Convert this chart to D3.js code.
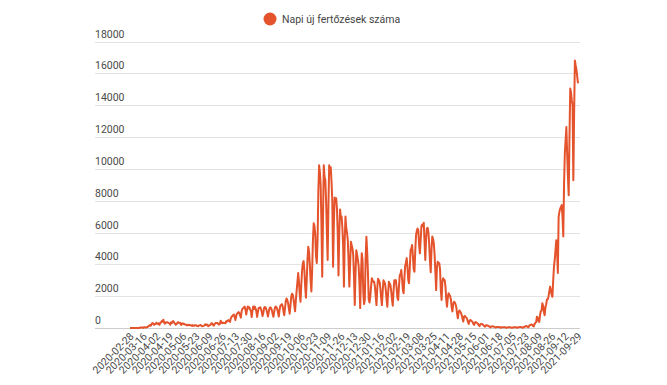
<!DOCTYPE html>
<html>
<head>
<meta charset="utf-8">
<script src="https://cdnjs.cloudflare.com/ajax/libs/d3/7.8.5/d3.min.js"></script>
<style>
  body { margin: 0; background: #fff; }
  text { font-family: Roboto, "Noto Sans", sans-serif; }
</style>
</head>
<body>
<div id="chart"></div>
<script>
// napi új esetek, 2020-02-28-tól (egy sor = egy hét, péntektől csütörtökig)
const cases2020 = [
  1, 0, 0, 0, 0, 1, 3,
  3, 2, 2, 2, 4, 13, 10,
  40, 24, 32, 5, 44, 45, 31,
  31, 66, 66, 143, 143, 186, 144,
  263, 308, 293, 193, 251, 247, 332,
  280, 252, 291, 193, 324, 350, 441,
  402, 523, 353, 270, 338, 360, 360,
  340, 306, 291, 200, 354, 313, 415,
  436, 334, 284, 207, 240, 317, 376,
  333, 297, 320, 190, 267, 300, 240,
  261, 213, 213, 169, 173, 210, 171,
  199, 181, 160, 127, 178, 134, 144,
  179, 175, 147, 119, 110, 165, 170,
  184, 150, 111, 115, 134, 164, 227,
  186, 220, 194, 106, 150, 180, 207,
  298, 299, 214, 149, 232, 288, 321,
  320, 320, 237, 214, 264, 460, 325,
  301, 341, 310, 310, 294, 422, 389,
  460, 500, 440, 380, 600, 700, 750,
  800, 850, 700, 500, 750, 900, 940,
  1000, 950, 800, 650, 1050, 1200, 1250,
  1300, 1340, 1150, 850, 1150, 1350, 1250,
  1295, 1147, 1060, 688, 1092, 1353, 1201,
  1345, 1215, 1060, 697, 1010, 1260, 1250,
  1300, 1200, 1000, 750, 950, 1260, 1320,
  1280, 1150, 950, 720, 1000, 1230, 1300,
  1250, 1120, 900, 700, 1000, 1280, 1350,
  1300, 1180, 950, 720, 1150, 1400, 1450,
  1500, 1350, 1050, 800, 1250, 1700, 1850,
  1750, 1550, 1200, 900, 1400, 1950, 2150,
  2100, 1800, 1400, 1050, 1750, 2350, 2900,
  3450, 2900, 2100, 1650, 2700, 3600, 4080,
  4200, 3600, 2600, 1900, 3000, 4300, 5100,
  4800, 4000, 3000, 2300, 3600, 5500, 6580,
  6400, 5900, 4500, 4080, 5500, 8600, 10220,
  9800, 9000, 6500, 3220, 6800, 10220, 9500,
  9300, 8000, 6000, 4270, 7700, 10220, 9700,
  10100, 9200, 8000, 3850, 6500, 8200, 8000,
  8150, 7500, 6000, 3300, 5900, 7450, 7000,
  7000, 6300, 5200, 2600, 5500, 7000, 6300,
  6000, 5500, 4200, 2600, 4000, 5420, 5200,
  5000, 4600, 3200, 1440, 3500, 4890, 4600,
  4300, 3900, 2800, 1250, 3300, 4700, 4300,
  2200, 1500, 1800, 4400, 5730, 4800, 3450
];

const cases2021 = [
  1800, 1600, 1960, 2600, 3130, 3000, 2900,
  2900, 2600, 2000, 1440, 2500, 3100, 3000,
  2900, 2500, 1900, 1440, 2300, 3000, 2900,
  2800, 2400, 1800, 1340, 2200, 2900, 2800,
  2700, 2300, 1800, 1400, 2300, 3000, 2900,
  3010, 2500, 1900, 1760, 2600, 3300, 3400,
  3640, 3100, 2400, 2180, 3100, 3900, 4100,
  4390, 3800, 3000, 2820, 3800, 4900, 5000,
  5210, 4500, 3700, 3530, 4800, 5800, 6100,
  6250, 6150, 5200, 4690, 5500, 6400, 6500,
  6400, 6610, 5400, 4270, 5600, 6250, 6300,
  6000, 5300, 4200, 3500, 4900, 5750, 5600,
  5310, 4600, 3500, 2380, 3800, 4160, 4100,
  4080, 3700, 2400, 1760, 2900, 3130, 3010,
  3010, 2600, 1800, 1340, 1900, 2190, 2100,
  2000, 1800, 1300, 1040, 1500, 1650, 1600,
  1500, 1300, 900, 610, 1000, 1100, 1040,
  950, 800, 600, 400, 720, 760, 700,
  650, 560, 380, 250, 450, 500, 480,
  420, 380, 260, 190, 330, 380, 330,
  300, 260, 180, 110, 230, 260, 240,
  220, 180, 120, 80, 160, 170, 160,
  140, 120, 70, 50, 100, 110, 100,
  90, 80, 50, 30, 60, 70, 60,
  60, 50, 30, 20, 50, 55, 50,
  50, 45, 25, 15, 40, 50, 45,
  45, 40, 20, 12, 35, 45, 40,
  50, 45, 25, 15, 50, 55, 60,
  60, 55, 30, 20, 60, 80, 90,
  120, 110, 70, 50, 140, 180, 200,
  220, 200, 120, 100, 260, 330, 360,
  710, 650, 450, 380, 800, 1050, 1100,
  1560, 1400, 1000, 800, 1300, 1500, 1800,
  1800, 2000, 2300, 2600, 2400, 2100, 1960,
  3000, 3850, 4300, 4900, 5520, 4800, 3450,
  6980, 7300, 7500, 7600, 7720, 7000, 5750,
  9000, 10960, 11800, 12630, 11000, 9500, 8340,
  12000, 15040, 14800, 14300, 14000, 9280, 13500,
  16810, 16500, 16250, 15800, 15370
];

const tickLabels = [
  "2020-02-28", "2020-03-16", "2020-04-02", "2020-04-19", "2020-05-06",
  "2020-05-23", "2020-06-09", "2020-06-26", "2020-07-13", "2020-07-30",
  "2020-08-16", "2020-09-02", "2020-09-19", "2020-10-06", "2020-10-23",
  "2020-11-09", "2020-11-26", "2020-12-13", "2020-12-30", "2021-01-16",
  "2021-02-02", "2021-02-19", "2021-03-08", "2021-03-25", "2021-04-11",
  "2021-04-28", "2021-05-15", "2021-06-01", "2021-06-18", "2021-07-05",
  "2021-07-23", "2021-08-09", "2021-08-26", "2021-09-12", "2021-09-29"
];

const yTicks = [0, 2000, 4000, 6000, 8000, 10000, 12000, 14000, 16000, 18000];
const seriesName = "Napi új fertőzések száma";
const missingDay = "2021-07-14"; // ez a nap hiányzik az adatsorból

const w = 667, h = 385;
const lineColor = "#e4532b";

const fmt = d3.timeFormat("%Y-%m-%d");
const days = d3.timeDay.range(new Date(2020, 1, 28), new Date(2021, 8, 30))
  .map(fmt)
  .filter(d => d !== missingDay);
const values = cases2020.concat(cases2021);
const data = days.map((d, i) => ({ day: d, value: values[i] }));

const svg = d3.select("#chart").append("svg")
  .attr("width", w)
  .attr("height", h);

const x = d3.scalePoint()
  .domain(days)
  .range([130, 578]);

const y = d3.scaleLinear()
  .domain([0, 18000])
  .range([328, 41.5]);

// rácsvonalak + feliratok
const grid = svg.append("g");
grid.selectAll("line")
  .data(yTicks)
  .join("line")
  .attr("x1", 95)
  .attr("x2", 580)
  .attr("y1", d => Math.round(y(d)) + 0.5)
  .attr("y2", d => Math.round(y(d)) + 0.5)
  .attr("stroke", d => d === 0 ? "#ccc" : "#e3e3e3")
  .attr("stroke-width", 1);

grid.selectAll("text")
  .data(yTicks)
  .join("text")
  .attr("x", 95)
  .attr("y", d => y(d) - 4)
  .attr("font-size", 10.5)
  .attr("fill", "#4a4a4a")
  .text(d => d);

// x tengely
const xAxis = svg.append("g")
  .attr("transform", "translate(0,328)")
  .call(d3.axisBottom(x).tickValues(tickLabels).tickSize(0));
xAxis.select(".domain").remove();
xAxis.selectAll("text")
  .attr("x", 0)
  .attr("y", 0)
  .attr("dy", 0)
  .attr("transform", "translate(4,9) rotate(-45)")
  .attr("text-anchor", "end")
  .attr("font-family", "Roboto, sans-serif")
  .attr("font-size", 10.5)
  .attr("fill", "#4a4a4a");

// vonal
const line = d3.line()
  .x(d => x(d.day))
  .y(d => y(d.value));

svg.append("path")
  .datum(data)
  .attr("fill", "none")
  .attr("stroke", lineColor)
  .attr("stroke-width", 2)
  .attr("stroke-linejoin", "round")
  .attr("d", line);

// jelmagyarázat
const legend = svg.append("g");
legend.append("circle")
  .attr("cx", 270)
  .attr("cy", 19)
  .attr("r", 6.5)
  .attr("fill", lineColor);
legend.append("text")
  .attr("x", 282)
  .attr("y", 23)
  .attr("font-size", 10.5)
  .attr("fill", "#444")
  .text(seriesName);
</script>
</body>
</html>
